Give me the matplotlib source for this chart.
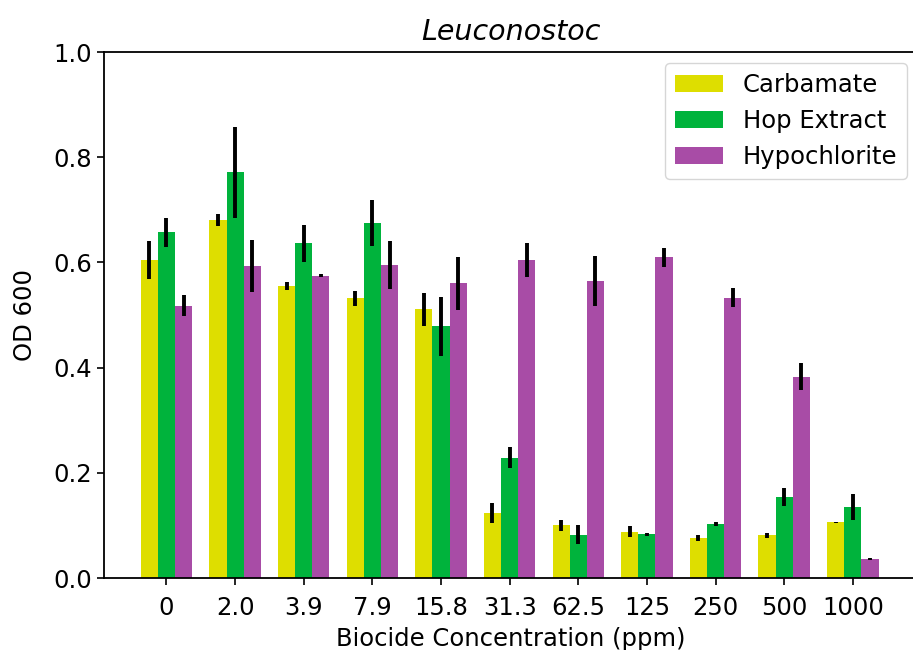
import numpy as np
import matplotlib
matplotlib.use("Agg")
import matplotlib.pyplot as plt

# DATA
concentrations = ["0", "2.0", "3.9", "7.9", "15.8", "31.3", "62.5", "125", "250", "500", "1000"]

carbamate = [0.605, 0.681, 0.555, 0.532, 0.511, 0.124, 0.100, 0.088, 0.076, 0.081, 0.106]
carbamate_err = [0.036, 0.011, 0.007, 0.014, 0.031, 0.019, 0.010, 0.011, 0.006, 0.005, 0.001]

hop_extract = [0.657, 0.771, 0.636, 0.675, 0.479, 0.229, 0.082, 0.083, 0.102, 0.154, 0.135]
hop_extract_err = [0.027, 0.086, 0.036, 0.043, 0.056, 0.020, 0.018, 0.003, 0.004, 0.018, 0.025]

hypochlorite = [0.518, 0.593, 0.575, 0.595, 0.560, 0.605, 0.565, 0.610, 0.533, 0.383, 0.036]
hypochlorite_err = [0.020, 0.050, 0.002, 0.046, 0.050, 0.032, 0.047, 0.018, 0.018, 0.025, 0.002]

series_names = ["Carbamate", "Hop Extract", "Hypochlorite"]
colours = ["#dede00", "#00b33c", "#a84ca6"]


def main() -> None:
    plt.rcParams['font.family'] = 'DejaVu Sans'
    fig = plt.figure(figsize=(9.13, 6.5), dpi=100)
    # right edge sits just past the picture, like the cropped original
    ax = fig.add_axes([104 / 913, 1 - 578 / 650, (918 - 104) / 913, (578 - 52) / 650])

    x = np.arange(len(concentrations))
    width = 0.25
    all_values = [carbamate, hop_extract, hypochlorite]
    all_errors = [carbamate_err, hop_extract_err, hypochlorite_err]

    for i, (vals, errs) in enumerate(zip(all_values, all_errors)):
        ax.bar(x + (i - 1) * width, vals, width, yerr=errs, color=colours[i],
               label=series_names[i], error_kw=dict(ecolor='black', elinewidth=2.8, capsize=0))

    ax.set_xlim(-0.91, 10.95)
    ax.set_ylim(0, 1.0)
    ax.set_xticks(x)
    ax.set_xticklabels(concentrations)
    ax.tick_params(labelsize=17.5, length=5, width=1.2)
    ax.tick_params(axis='x', pad=8)
    for spine in ax.spines.values():
        spine.set_linewidth(1.3)

    ax.set_xlabel("Biocide Concentration (ppm)", fontsize=17.5, labelpad=5)
    ax.set_ylabel("OD 600", fontsize=17.5, labelpad=12)
    ax.set_title("Leuconostoc", fontsize=20.5, style='italic', pad=9)
    ax.legend(loc='upper right', fontsize=17.5, borderaxespad=0.45)

    fig.savefig("out.png", dpi=100)


if __name__ == "__main__":
    main()
